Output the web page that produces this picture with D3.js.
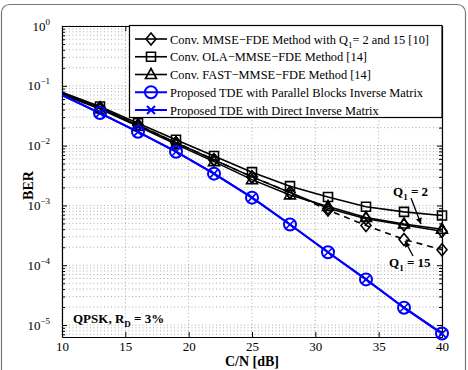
<!DOCTYPE html>
<html>
<head>
<meta charset="utf-8">
<script src="https://cdn.jsdelivr.net/npm/d3@7"></script>
<style>
  body { margin: 0; background: #fff; }
  svg { display: block; font-family: "Liberation Serif", "Times New Roman", serif; }
</style>
</head>
<body>
<div class="chart"></div>
<script>
// C/N in dB
var snr = [10, 13, 16, 19, 22, 25, 28, 31, 34, 37, 40];

var berMmseQ2 = [0.075, 0.043, 0.022, 0.0112, 0.0058, 0.0030, 0.00165, 0.00090, 0.00060, 0.00047, 0.00037];
var berMmseQ15 = [0.075, 0.043, 0.022, 0.0112, 0.0058, 0.0030, 0.00165, 0.00084, 0.00046, 0.00027, 0.000182];
var berOla = [0.078, 0.045, 0.0236, 0.0125, 0.0067, 0.0036, 0.0021, 0.00138, 0.00095, 0.00078, 0.00068];
var berFast = [0.072, 0.041, 0.021, 0.0105, 0.0054, 0.0027, 0.0015, 0.00096, 0.00063, 0.00049, 0.00040];
var berTdeParallel = [0.070, 0.035, 0.017, 0.0079, 0.0034, 0.00135, 0.00048, 0.000165, 0.000058, 0.0000195, 0.0000072];
var berTdeDirect = [0.070, 0.035, 0.017, 0.0079, 0.0034, 0.00135, 0.00048, 0.000165, 0.000058, 0.0000195, 0.0000072];

var xTicks = [10, 15, 20, 25, 30, 35, 40];
var yTickExps = [0, -1, -2, -3, -4, -5];

var legendLabels = [
    "Conv. MMSE\u2212FDE Method with Q",
    "Conv. OLA\u2212MMSE\u2212FDE Method [14]",
    "Conv. FAST\u2212MMSE\u2212FDE Method [14]",
    "Proposed TDE with Parallel Blocks Inverse Matrix",
    "Proposed TDE with Direct Inverse Matrix"
];

var series = [
    { values: berMmseQ2, color: "#000", marker: "diamond", dash: null, width: 1.6 },
    { values: berMmseQ15, color: "#000", marker: "diamond", dash: "6,5", width: 1.6 },
    { values: berOla, color: "#000", marker: "square", dash: null, width: 1.6 },
    { values: berFast, color: "#000", marker: "triangle", dash: null, width: 1.6 },
    { values: berTdeParallel, color: "#0000ff", marker: "circle", dash: null, width: 2 },
    { values: berTdeDirect, color: "#0000ff", marker: "x", dash: null, width: 2 }
];

var svg = d3
    .select(".chart")
    .append("svg")
    .attr("width", 468)
    .attr("height", 370);

var pLeft = 62, pRight = 442, pTop = 26, pBottom = 337;

var x = d3.scaleLinear().domain([10, 40]).range([pLeft, pRight]);
var y = d3.scaleLog().domain([Math.pow(10, -5.2), 1]).range([pBottom, pTop]);

// outer frame
svg.append("rect")
    .attr("x", 1.5).attr("y", 4.5)
    .attr("width", 464).attr("height", 380)
    .attr("rx", 8)
    .attr("fill", "none")
    .attr("stroke", "#777")
    .attr("stroke-width", 1.2);

var defs = svg.append("defs");
defs.append("clipPath").attr("id", "plotclip")
    .append("rect")
    .attr("x", pLeft).attr("y", pTop)
    .attr("width", pRight - pLeft).attr("height", pBottom - pTop);

defs.append("marker")
    .attr("id", "arrowhead")
    .attr("viewBox", "0 0 10 10")
    .attr("refX", 10).attr("refY", 5)
    .attr("markerWidth", 10).attr("markerHeight", 6)
    .attr("markerUnits", "userSpaceOnUse")
    .attr("orient", "auto")
    .append("path")
    .attr("d", "M0,0 L10,5 L0,10 Z")
    .attr("fill", "#000");

// grid
var grid = svg.append("g").attr("class", "grid");
var minorVals = [];
for (var ex = -6; ex <= 0; ex++) {
    for (var m = 1; m <= 9; m++) {
        var v = m * Math.pow(10, ex);
        if (v >= y.domain()[0] && v <= 1) minorVals.push(v);
    }
}
grid.selectAll("line.h")
    .data(minorVals)
    .enter()
    .append("line")
    .attr("x1", pLeft).attr("x2", pRight)
    .attr("y1", (d) => y(d)).attr("y2", (d) => y(d))
    .attr("stroke", "#999")
    .attr("stroke-width", 0.8)
    .attr("stroke-dasharray", "1,2.5");
grid.selectAll("line.v")
    .data(xTicks)
    .enter()
    .append("line")
    .attr("x1", (d) => x(d)).attr("x2", (d) => x(d))
    .attr("y1", pTop).attr("y2", pBottom)
    .attr("stroke", "#999")
    .attr("stroke-width", 0.8)
    .attr("stroke-dasharray", "1,2.5");

// axes (ticks inside)
var xAxis = svg.append("g")
    .attr("transform", `translate(0,${pBottom})`)
    .call(d3.axisBottom(x).tickValues(xTicks).tickSizeInner(-5).tickSizeOuter(0).tickPadding(5));
var xAxisTop = svg.append("g")
    .attr("transform", `translate(0,${pTop})`)
    .call(d3.axisTop(x).tickValues(xTicks).tickSizeInner(-5).tickSizeOuter(0).tickFormat(""));
var yAxis = svg.append("g")
    .attr("transform", `translate(${pLeft},0)`)
    .call(d3.axisLeft(y).tickValues(minorVals).tickSizeInner(-3).tickSizeOuter(0).tickFormat(""));
var yAxisR = svg.append("g")
    .attr("transform", `translate(${pRight},0)`)
    .call(d3.axisRight(y).tickValues(minorVals).tickSizeInner(-3).tickSizeOuter(0).tickFormat(""));
[yAxis, yAxisR].forEach((g) => {
    g.selectAll(".tick line")
        .filter((d) => Math.abs(Math.log10(d) - Math.round(Math.log10(d))) < 1e-9)
        .attr("x2", g === yAxis ? 5 : -5);
});
[xAxis, xAxisTop, yAxis, yAxisR].forEach((g) => {
    g.attr("font-family", null);
    g.select(".domain").attr("stroke", "#000").attr("stroke-width", 1.2);
    g.selectAll(".tick line").attr("stroke", "#000");
});
xAxis.selectAll(".tick text")
    .attr("font-size", 13)
    .attr("fill", "#000");

// y tick labels as 10^n
var yLabels = svg.append("g").selectAll("text")
    .data(yTickExps)
    .enter()
    .append("text")
    .attr("x", 50)
    .attr("y", (d) => y(Math.pow(10, d)) + 4.5)
    .attr("text-anchor", "end")
    .attr("font-size", 13)
    .attr("fill", "#000");
yLabels.append("tspan").text("10");
yLabels.append("tspan")
    .attr("dy", -6)
    .attr("font-size", 9)
    .text((d) => (d === 0 ? "0" : "\u2212" + Math.abs(d)));

// axis titles
svg.append("text")
    .attr("transform", `translate(33,${(pTop + pBottom) / 2 + 4}) rotate(-90)`)
    .attr("text-anchor", "middle")
    .attr("font-size", 14)
    .attr("font-weight", "bold")
    .text("BER");
svg.append("text")
    .attr("x", (pLeft + pRight) / 2)
    .attr("y", 366)
    .attr("text-anchor", "middle")
    .attr("font-size", 14)
    .attr("font-weight", "bold")
    .text("C/N [dB]");

// lines
var plot = svg.append("g").attr("clip-path", "url(#plotclip)");
var line = d3.line()
    .x((d, i) => x(snr[i]))
    .y((d) => y(d));

var markerPath = (type) => {
    if (type === "diamond") return "M0,-6 L5,0 L0,6 L-5,0 Z";
    if (type === "square") return "M-4.5,-4.5 H4.5 V4.5 H-4.5 Z";
    if (type === "triangle") return "M0,-6 L5.5,4 L-5.5,4 Z";
    if (type === "circle") return d3.symbol().type(d3.symbolCircle).size(Math.PI * 36)();
    if (type === "x") return "M-4,-4 L4,4 M-4,4 L4,-4";
    return "";
};

series.forEach((s) => {
    plot.append("path")
        .datum(s.values)
        .attr("d", line)
        .attr("fill", "none")
        .attr("stroke", s.color)
        .attr("stroke-width", s.width)
        .attr("stroke-dasharray", s.dash);
});
series.forEach((s) => {
    svg.append("g")
        .selectAll("path")
        .data(s.values.map((v, i) => [snr[i], v]).filter((d) => d[0] > 10))
        .enter()
        .append("path")
        .attr("transform", (d) => `translate(${x(d[0])},${y(d[1])})`)
        .attr("d", markerPath(s.marker))
        .attr("fill", "none")
        .attr("stroke", s.color)
        .attr("stroke-width", s.marker === "circle" ? 2 : 1.6);
});

// annotations
svg.append("text")
    .attr("x", 73).attr("y", 323)
    .attr("font-size", 13).attr("font-weight", "bold")
    .call((t) => {
        t.append("tspan").text("QPSK, R");
        t.append("tspan").attr("dy", 4).attr("font-size", 9).text("D");
        t.append("tspan").attr("dy", -4).text(" = 3%");
    });

var qLabel = (px, py, val) => {
    var t = svg.append("text")
        .attr("x", px).attr("y", py)
        .attr("font-size", 13).attr("font-weight", "bold");
    t.append("tspan").text("Q");
    t.append("tspan").attr("dy", 4).attr("font-size", 9).text("1");
    t.append("tspan").attr("dy", -4).text(" = " + val);
};
qLabel(393, 196, "2");
qLabel(389, 267, "15");

svg.append("line")
    .attr("x1", 411).attr("y1", 198)
    .attr("x2", 421).attr("y2", 224)
    .attr("stroke", "#000").attr("stroke-width", 1.3)
    .attr("marker-end", "url(#arrowhead)");
svg.append("line")
    .attr("x1", 413).attr("y1", 256)
    .attr("x2", 405).attr("y2", 241)
    .attr("stroke", "#000").attr("stroke-width", 1.3)
    .attr("marker-end", "url(#arrowhead)");

// legend
var legend = svg.append("g");
legend.append("rect")
    .attr("x", 129.5).attr("y", 25.5)
    .attr("width", pRight - 129.5).attr("height", 92)
    .attr("fill", "#fff")
    .attr("stroke", "#000")
    .attr("stroke-width", 1.2);

var legendRows = [
    { label: legendLabels[0], types: ["diamond"], color: "#000", width: 1.6 },
    { label: legendLabels[1], types: ["square"], color: "#000", width: 1.6 },
    { label: legendLabels[2], types: ["triangle"], color: "#000", width: 1.6 },
    { label: legendLabels[3], types: ["circle"], color: "#0000ff", width: 2 },
    { label: legendLabels[4], types: ["x"], color: "#0000ff", width: 2 }
];
var rowY = d3.scalePoint().domain(d3.range(legendRows.length)).range([39, 110]);

var rows = legend.selectAll("g.row")
    .data(legendRows)
    .enter()
    .append("g")
    .attr("transform", (d, i) => `translate(0,${rowY(i)})`);
rows.append("line")
    .attr("x1", 135).attr("x2", 167)
    .attr("stroke", (d) => d.color)
    .attr("stroke-width", (d) => d.width);
rows.append("path")
    .attr("transform", "translate(151,0)")
    .attr("d", (d) => markerPath(d.types[0]))
    .attr("fill", "none")
    .attr("stroke", (d) => d.color)
    .attr("stroke-width", (d) => d.width);
var rowText = rows.append("text")
    .attr("x", 170).attr("y", 4.5)
    .attr("font-size", 12.4)
    .attr("fill", "#000");
rowText.append("tspan").text((d) => d.label);
rowText.filter((d, i) => i === 0).call((t) => {
    t.append("tspan").attr("dy", 4).attr("font-size", 9).text("1");
    t.append("tspan").attr("dy", -4).text("= 2 and 15 [10]");
});
</script>
</body>
</html>
